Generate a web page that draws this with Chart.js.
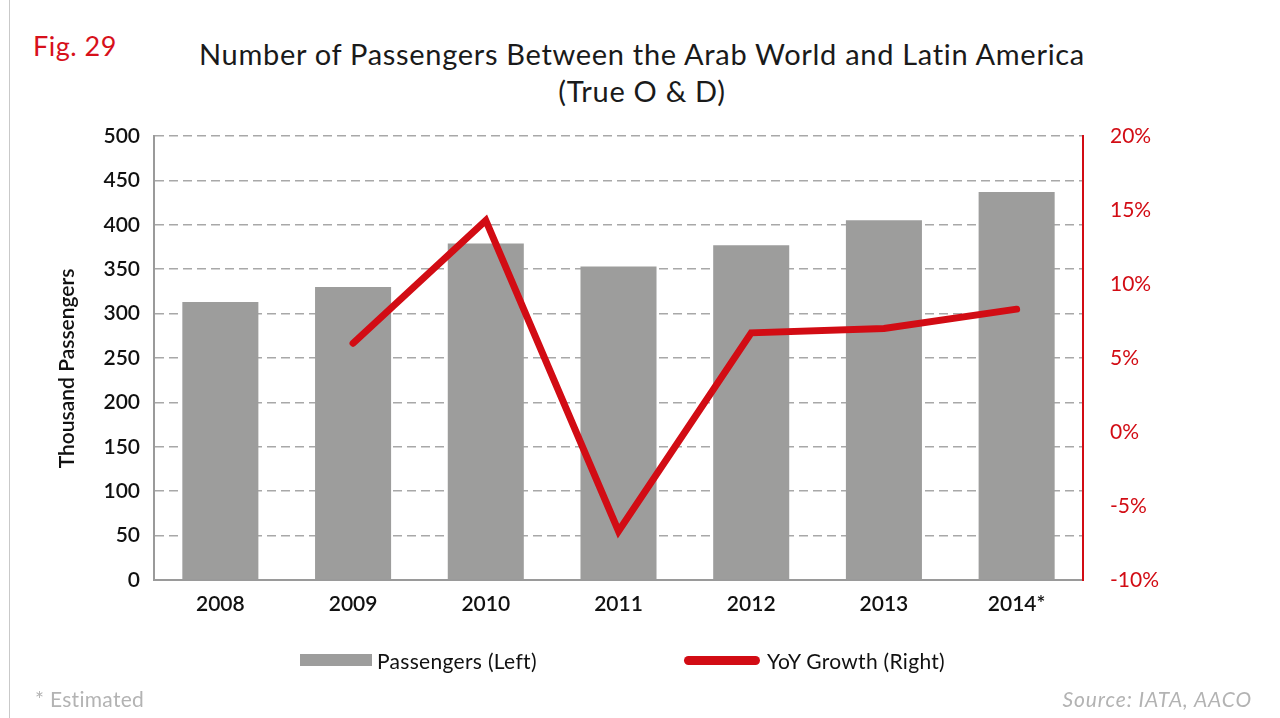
<!DOCTYPE html>
<html>
<head>
<meta charset="utf-8">
<script src="https://cdn.jsdelivr.net/npm/chart.js@4"></script>
<style>
  html, body { margin: 0; padding: 0; background: #fff; }
  #page { position: relative; width: 1280px; height: 718px; overflow: hidden; font-family: Lato, 'Open Sans', sans-serif; }
  #page .edge { position: absolute; left: 9px; top: 0; width: 1px; height: 718px; background: #c9c9c9; }
  #fig { position: absolute; left: 33px; top: 29px; font-size: 27px; color: #d7111b; letter-spacing: 0.5px; }
  #title { position: absolute; left: 140px; width: 1004px; top: 35px; text-align: center; font-size: 29px; line-height: 37px; color: #1a1a1a; letter-spacing: 0.7px; }
  #chart { position: absolute; left: 0; top: 0; }
  .legend { position: absolute; top: 647px; font-size: 21px; color: #111; display: flex; align-items: center; height: 26px; letter-spacing: 0.3px; }
  .legend .sw-bar { width: 72px; height: 12px; background: #9d9d9c; margin-right: 5px; }
  .legend .sw-line { width: 76px; height: 9px; border-radius: 5px; background: #d20c14; margin-right: 7px; }
  #note { position: absolute; left: 35px; top: 686px; font-size: 21px; color: #b3b3b3; letter-spacing: 0.3px; }
  #source { position: absolute; right: 28px; top: 686px; font-size: 21px; color: #b3b3b3; font-style: italic; letter-spacing: 0.9px; }
</style>
</head>
<body>
<div id="page">
  <div class="edge"></div>
  <div id="fig">Fig. 29</div>
  <div id="title">Number of Passengers Between the Arab World and Latin America<br>(True O &amp; D)</div>
  <canvas id="chart" width="1280" height="718"></canvas>
  <div class="legend" style="left:300px"><div class="sw-bar"></div>Passengers (Left)</div>
  <div class="legend" style="left:684px"><div class="sw-line"></div>YoY Growth (Right)</div>
  <div id="note">* Estimated</div>
  <div id="source">Source: IATA, AACO</div>
</div>

<script>
'use strict';

// ── Data ──────────────────────────────────────────────────────────────
const years      = ['2008', '2009', '2010', '2011', '2012', '2013', '2014*'];
const passengers = [313, 330, 379, 353, 377, 405, 437];      // thousand
const yoyGrowth  = [null, 6.0, 14.3, -6.7, 6.7, 7.0, 8.3];   // percent

const leftTicks  = { min: 0, max: 500, step: 50 };
const rightTicks = { min: -10, max: 20, step: 5 };

// ── Colours ───────────────────────────────────────────────────────────
const BAR_GREY = '#9d9d9c';
const RED      = '#d20c14';
const GRID     = '#a8a8a8';
const AXIS     = '#9a9a9a';

const tickFont = { family: 'Lato', size: 21, weight: '600' };

new Chart(document.getElementById('chart'), {
  data: {
    labels: years,
    datasets: [
      {
        type: 'line',
        label: 'YoY Growth (Right)',
        data: yoyGrowth,
        yAxisID: 'y2',
        borderColor: RED,
        borderWidth: 7,
        borderCapStyle: 'round',
        borderJoinStyle: 'miter',
        pointRadius: 0,
        tension: 0,
        order: 0,
      },
      {
        type: 'bar',
        label: 'Passengers (Left)',
        data: passengers,
        yAxisID: 'y',
        backgroundColor: BAR_GREY,
        categoryPercentage: 1,
        barPercentage: 0.573,
        order: 1,
      },
    ],
  },
  options: {
    responsive: false,
    animation: false,
    devicePixelRatio: 1,
    layout: { padding: { left: 54, right: 97, top: 136, bottom: 98 } },
    plugins: {
      legend: { display: false },
      tooltip: { enabled: false },
    },
    scales: {
      x: {
        afterFit: s => { s.height = 40; },
        grid: { display: false, drawTicks: false },
        border: { color: AXIS, width: 2 },
        ticks: { color: '#111', font: tickFont, padding: 12, maxRotation: 0 },
      },
      y: {
        position: 'left',
        min: leftTicks.min, max: leftTicks.max,
        afterFit: s => { s.width = 100; },
        ticks: { stepSize: leftTicks.step, color: '#111', font: tickFont, padding: 14 },
        grid: { color: GRID, lineWidth: 1.5, drawTicks: false },
        border: { color: AXIS, width: 2, dash: [9, 5] },
        title: {
          display: true,
          // trailing spaces nudge the rotated label a little lower
          text: 'Thousand Passengers\u00a0\u00a0\u00a0\u00a0',
          color: '#111',
          font: { family: 'Lato', size: 21, weight: '600' },
          padding: { top: 1, bottom: 0 },
        },
      },
      y2: {
        position: 'right',
        min: rightTicks.min, max: rightTicks.max,
        afterFit: s => { s.width = 100; },
        ticks: {
          stepSize: rightTicks.step,
          color: RED,
          font: { family: 'Lato', size: 21 },
          padding: 27,
          callback: v => v + '%',
        },
        grid: { display: false, drawTicks: false },
        border: { color: RED, width: 2 },
      },
    },
  },
});
</script>
</body>
</html>
